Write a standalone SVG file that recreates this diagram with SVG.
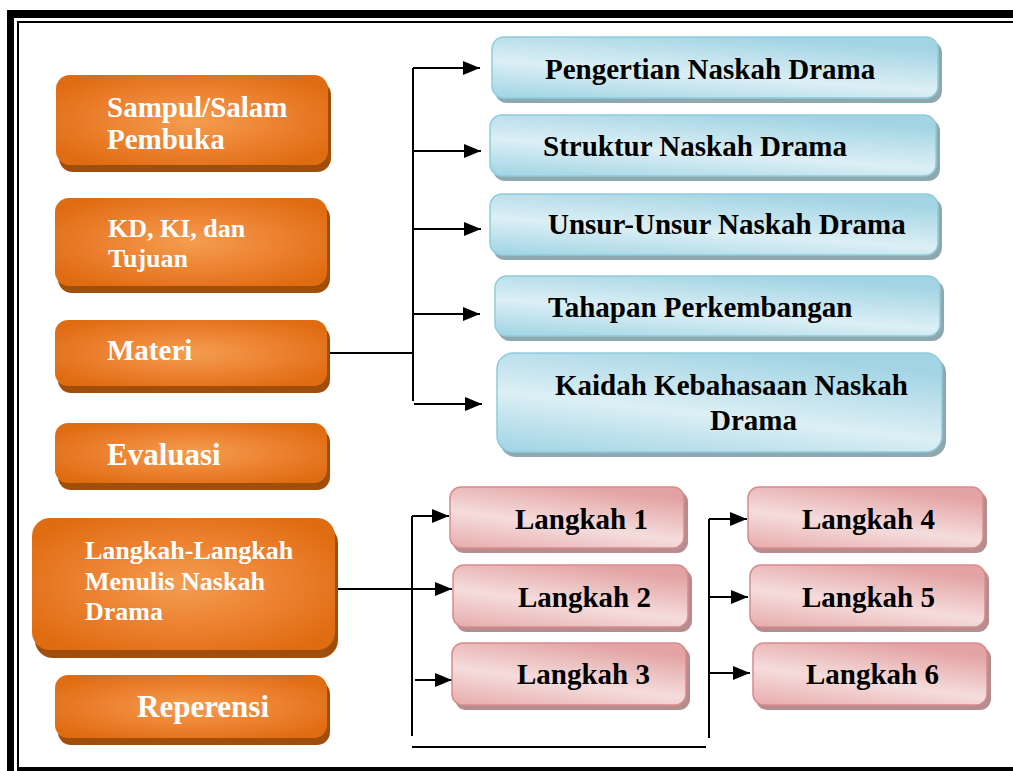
<svg xmlns="http://www.w3.org/2000/svg" width="1013" height="771" viewBox="0 0 1013 771">
<defs>
<radialGradient id="gOr" cx="0.5" cy="0.5" r="0.6">
<stop offset="0" stop-color="#f49d50"/>
<stop offset="0.55" stop-color="#ec8130"/>
<stop offset="1" stop-color="#e06c12"/>
</radialGradient>
<linearGradient id="gBl" x1="0.1" y1="1" x2="0.6" y2="0">
<stop offset="0" stop-color="#a4d6e5"/>
<stop offset="0.45" stop-color="#dceff5"/>
<stop offset="1" stop-color="#a2d4e4"/>
</linearGradient>
<linearGradient id="gPk" x1="0.1" y1="1" x2="0.6" y2="0">
<stop offset="0" stop-color="#e9afb0"/>
<stop offset="0.45" stop-color="#f5dcdc"/>
<stop offset="1" stop-color="#e3a2a3"/>
</linearGradient>
<marker id="arr" markerUnits="userSpaceOnUse" markerWidth="17" markerHeight="14" refX="17" refY="7" orient="auto">
<path d="M0,0 L17,7 L0,14 z" fill="#000"/>
</marker>
</defs>
<style>
.osh{fill:#9f4f0b}
.obx{fill:url(#gOr)}
.bsh{fill:#8fa8af}
.bbx{fill:url(#gBl);stroke:#8ecbdc;stroke-width:1.5}
.psh{fill:#b48d8e}
.pbx{fill:url(#gPk);stroke:#d98b8c;stroke-width:1.5}
.ot{font-family:"Liberation Serif","Times New Roman",serif;font-weight:bold;fill:#fff}
.dt{font-family:"Liberation Serif","Times New Roman",serif;font-weight:bold;fill:#000;font-size:29px}
.ln{stroke:#000;stroke-width:2;fill:none}
.ar{stroke:#000;stroke-width:2;fill:none;marker-end:url(#arr)}
</style>
<rect width="1013" height="771" fill="#fff"/>
<g id="frame">
<rect x="7" y="10" width="1006" height="8" fill="#000"/>
<rect x="7" y="10" width="7" height="761" fill="#000"/>
<rect x="17" y="21" width="996" height="2" fill="#000"/>
<rect x="17" y="21" width="2" height="750" fill="#000"/>
<rect x="17" y="767" width="996" height="4" fill="#000"/>
</g>
<g id="connectors">
<path class="ln" d="M330,353 H413"/>
<path class="ln" d="M413,401 V68"/>
<path class="ar" d="M413,68 H480"/>
<path class="ar" d="M414,151 H481"/>
<path class="ar" d="M414,229 H481"/>
<path class="ar" d="M414,314 H480"/>
<path class="ar" d="M414,404 H482"/>
<path class="ln" d="M412,736 V516"/>
<path class="ar" d="M412,516 H449"/>
<path class="ar" d="M338,589 H452"/>
<path class="ar" d="M415,680 H452"/>
<path class="ln" d="M412,747 H706"/>
<path class="ln" d="M709,738 V519"/>
<path class="ar" d="M709,519 H747"/>
<path class="ar" d="M710,597 H748"/>
<path class="ar" d="M710,673 H750"/>
</g>
<g id="n-sampul">
<rect class="osh" x="59" y="81" width="272" height="91" rx="14"/>
<rect class="obx" x="56" y="75" width="272" height="90" rx="14"/>
<text class="ot" font-size="29" x="107" y="117">Sampul/Salam</text>
<text class="ot" font-size="29" x="107" y="149">Pembuka</text>
</g>
<g id="n-kd">
<rect class="osh" x="58" y="204" width="272" height="89" rx="14"/>
<rect class="obx" x="55" y="198" width="272" height="88" rx="14"/>
<text class="ot" font-size="26" x="108" y="237">KD, KI, dan</text>
<text class="ot" font-size="26" x="108" y="267">Tujuan</text>
</g>
<g id="n-materi">
<rect class="osh" x="58" y="326" width="272" height="67" rx="13"/>
<rect class="obx" x="55" y="320" width="272" height="66" rx="13"/>
<text class="ot" font-size="29" x="107" y="360">Materi</text>
</g>
<g id="n-evaluasi">
<rect class="osh" x="58" y="429" width="272" height="61" rx="13"/>
<rect class="obx" x="55" y="423" width="272" height="60" rx="13"/>
<text class="ot" font-size="31" x="107" y="465">Evaluasi</text>
</g>
<g id="n-langkah">
<rect class="osh" x="35" y="525" width="303" height="133" rx="18"/>
<rect class="obx" x="32" y="518" width="303" height="132" rx="18"/>
<text class="ot" font-size="26" x="85" y="559">Langkah-Langkah</text>
<text class="ot" font-size="26" x="85" y="590">Menulis Naskah</text>
<text class="ot" font-size="26" x="85" y="620">Drama</text>
</g>
<g id="n-reperensi">
<rect class="osh" x="58" y="681" width="272" height="64" rx="13"/>
<rect class="obx" x="55" y="675" width="272" height="63" rx="13"/>
<text class="ot" font-size="31" x="137" y="717">Reperensi</text>
</g>
<g id="n-pengertian">
<rect class="bsh" x="495" y="41" width="447" height="62" rx="12"/>
<rect class="bbx" x="492" y="37" width="446" height="61" rx="12"/>
<text class="dt" x="545" y="79">Pengertian Naskah Drama</text>
</g>
<g id="n-struktur">
<rect class="bsh" x="493" y="119" width="447" height="62" rx="12"/>
<rect class="bbx" x="490" y="115" width="446" height="61" rx="12"/>
<text class="dt" x="543" y="156">Struktur Naskah Drama</text>
</g>
<g id="n-unsur">
<rect class="bsh" x="493" y="198" width="449" height="62" rx="12"/>
<rect class="bbx" x="490" y="194" width="448" height="61" rx="12"/>
<text class="dt" x="548" y="234">Unsur-Unsur Naskah Drama</text>
</g>
<g id="n-tahapan">
<rect class="bsh" x="498" y="280" width="446" height="61" rx="12"/>
<rect class="bbx" x="495" y="276" width="445" height="60" rx="12"/>
<text class="dt" x="548" y="317">Tahapan Perkembangan</text>
</g>
<g id="n-kaidah">
<rect class="bsh" x="500" y="357" width="446" height="100" rx="16"/>
<rect class="bbx" x="497" y="353" width="445" height="99" rx="16"/>
<text class="dt" x="555" y="395">Kaidah Kebahasaan Naskah</text>
<text class="dt" x="710" y="430">Drama</text>
</g>
<g id="n-l1">
<rect class="psh" x="453" y="491" width="235" height="62" rx="11"/>
<rect class="pbx" x="450" y="487" width="234" height="61" rx="11"/>
<text class="dt" x="515" y="529">Langkah 1</text>
</g>
<g id="n-l2">
<rect class="psh" x="456" y="569" width="236" height="63" rx="11"/>
<rect class="pbx" x="453" y="565" width="235" height="62" rx="11"/>
<text class="dt" x="518" y="607">Langkah 2</text>
</g>
<g id="n-l3">
<rect class="psh" x="455" y="647" width="235" height="63" rx="11"/>
<rect class="pbx" x="452" y="643" width="234" height="62" rx="11"/>
<text class="dt" x="517" y="684">Langkah 3</text>
</g>
<g id="n-l4">
<rect class="psh" x="751" y="491" width="236" height="62" rx="11"/>
<rect class="pbx" x="748" y="487" width="235" height="61" rx="11"/>
<text class="dt" x="802" y="529">Langkah 4</text>
</g>
<g id="n-l5">
<rect class="psh" x="753" y="569" width="236" height="63" rx="11"/>
<rect class="pbx" x="750" y="565" width="235" height="62" rx="11"/>
<text class="dt" x="802" y="607">Langkah 5</text>
</g>
<g id="n-l6">
<rect class="psh" x="756" y="647" width="235" height="63" rx="11"/>
<rect class="pbx" x="753" y="643" width="234" height="62" rx="11"/>
<text class="dt" x="806" y="684">Langkah 6</text>
</g>
</svg>
